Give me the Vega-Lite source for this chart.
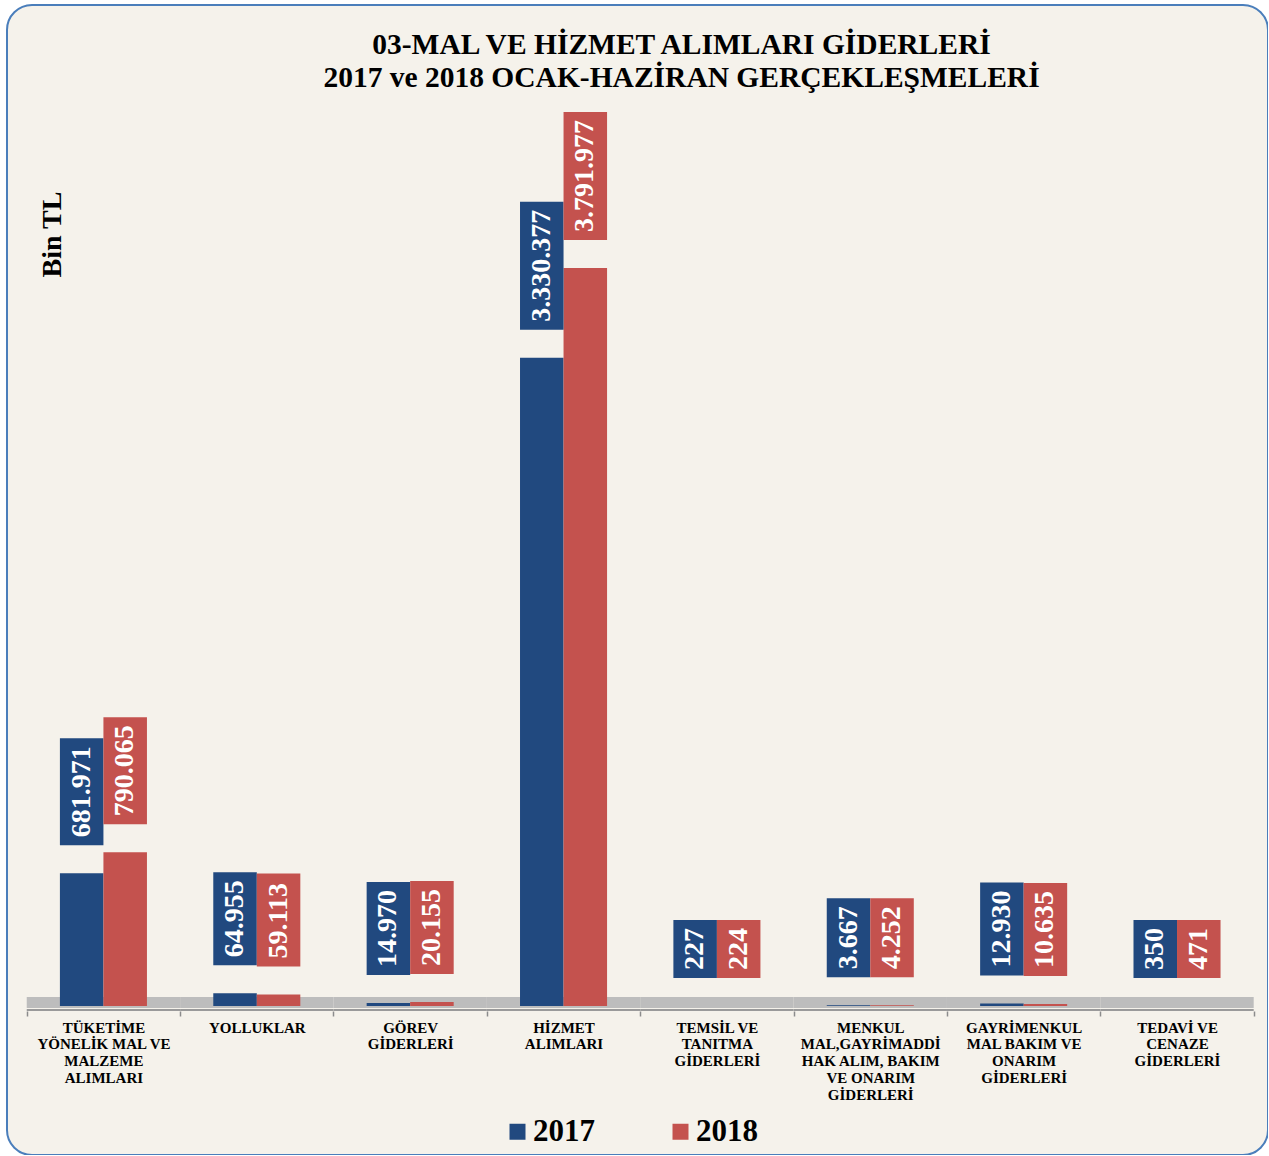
{
  "$schema": "https://vega.github.io/schema/vega-lite/v6.json",
  "width": 1261,
  "height": 1150,
  "autosize": {"type": "none"},
  "padding": {"left": 7, "top": 5, "right": 0, "bottom": 0},
  "background": "white",
  "config": {
    "view": {"fill": "#F5F2EB", "stroke": "#4A7EBB", "strokeWidth": 2, "cornerRadius": 25},
    "font": "Liberation Serif",
    "locale": {"number": {"decimal": ",", "thousands": ".", "grouping": [3], "currency": ["", ""]}}
  },
  "title": {
    "text": ["03-MAL VE HİZMET ALIMLARI GİDERLERİ", "2017 ve 2018 OCAK-HAZİRAN GERÇEKLEŞMELERİ"],
    "font": "Liberation Serif",
    "fontSize": 29.5,
    "fontWeight": "bold",
    "color": "black",
    "anchor": "middle",
    "frame": "group",
    "offset": -88,
    "lineHeight": 33,
    "dx": 44
  },
  "data": {
    "values": [
      {"cat": "TÜKETİME YÖNELİK MAL VE MALZEME ALIMLARI", "year": "2017", "value": 681971},
      {"cat": "TÜKETİME YÖNELİK MAL VE MALZEME ALIMLARI", "year": "2018", "value": 790065},
      {"cat": "YOLLUKLAR", "year": "2017", "value": 64955},
      {"cat": "YOLLUKLAR", "year": "2018", "value": 59113},
      {"cat": "GÖREV GİDERLERİ", "year": "2017", "value": 14970},
      {"cat": "GÖREV GİDERLERİ", "year": "2018", "value": 20155},
      {"cat": "HİZMET ALIMLARI", "year": "2017", "value": 3330377},
      {"cat": "HİZMET ALIMLARI", "year": "2018", "value": 3791977},
      {"cat": "TEMSİL VE TANITMA GİDERLERİ", "year": "2017", "value": 227},
      {"cat": "TEMSİL VE TANITMA GİDERLERİ", "year": "2018", "value": 224},
      {"cat": "MENKUL MAL,GAYRİMADDİ HAK ALIM, BAKIM VE ONARIM GİDERLERİ", "year": "2017", "value": 3667},
      {"cat": "MENKUL MAL,GAYRİMADDİ HAK ALIM, BAKIM VE ONARIM GİDERLERİ", "year": "2018", "value": 4252},
      {"cat": "GAYRİMENKUL MAL BAKIM VE ONARIM GİDERLERİ", "year": "2017", "value": 12930},
      {"cat": "GAYRİMENKUL MAL BAKIM VE ONARIM GİDERLERİ", "year": "2018", "value": 10635},
      {"cat": "TEDAVİ VE CENAZE GİDERLERİ", "year": "2017", "value": 350},
      {"cat": "TEDAVİ VE CENAZE GİDERLERİ", "year": "2018", "value": 471}
    ]
  },
  "encoding": {
    "x": {
      "field": "cat",
      "type": "nominal",
      "sort": null,
      "scale": {"paddingInner": 0, "paddingOuter": 0.111, "align": 0.58},
      "axis": {
        "title": null,
        "domain": false,
        "ticks": true,
        "tickBand": "extent",
        "tickColor": "#8C8C8C",
        "tickSize": 5,
        "tickWidth": 1.5,
        "offset": -144,
        "labelAngle": 0,
        "labelFont": "Liberation Serif",
        "labelFontWeight": "bold",
        "labelFontSize": 15,
        "labelColor": "black",
        "labelLineHeight": 16.8,
        "labelPadding": 4,
        "labelBaseline": "top",
        "labelLimit": 0,
        "labelExpr": "{'TÜKETİME YÖNELİK MAL VE MALZEME ALIMLARI': ['TÜKETİME', 'YÖNELİK MAL VE', 'MALZEME', 'ALIMLARI'], 'YOLLUKLAR': ['YOLLUKLAR'], 'GÖREV GİDERLERİ': ['GÖREV', 'GİDERLERİ'], 'HİZMET ALIMLARI': ['HİZMET', 'ALIMLARI'], 'TEMSİL VE TANITMA GİDERLERİ': ['TEMSİL VE', 'TANITMA', 'GİDERLERİ'], 'MENKUL MAL,GAYRİMADDİ HAK ALIM, BAKIM VE ONARIM GİDERLERİ': ['MENKUL', 'MAL,GAYRİMADDİ', 'HAK ALIM, BAKIM', 'VE ONARIM', 'GİDERLERİ'], 'GAYRİMENKUL MAL BAKIM VE ONARIM GİDERLERİ': ['GAYRİMENKUL', 'MAL BAKIM VE', 'ONARIM', 'GİDERLERİ'], 'TEDAVİ VE CENAZE GİDERLERİ': ['TEDAVİ VE', 'CENAZE', 'GİDERLERİ']}[datum.value]"
      }
    }
  },
  "layer": [
    {
      "transform": [{"filter": "datum.year == '2017'"}],
      "mark": {"type": "bar", "yOffset": -9, "y2Offset": 2, "color": "#BDBDBD"},
      "encoding": {
        "y": {
          "datum": 0,
          "type": "quantitative",
          "scale": {"domain": [-765600, 5143200], "nice": false, "zero": true},
          "axis": {
            "title": "Bin TL",
            "labels": false,
            "ticks": false,
            "domain": false,
            "grid": false,
            "titleFont": "Liberation Serif",
            "titleFontSize": 28,
            "titleFontWeight": "bold",
            "titleColor": "black",
            "titleAngle": 270,
            "titleAlign": "center",
            "titleBaseline": "middle",
            "titleX": 45,
            "titleY": 229
          }
        },
        "y2": {"datum": 0}
      }
    },
    {
      "transform": [{"filter": "datum.year == '2017'"}],
      "mark": {"type": "bar", "yOffset": 3, "y2Offset": 5, "color": "#9A9A9A"},
      "encoding": {
        "y": {"datum": 0, "type": "quantitative"},
        "y2": {"datum": 0}
      }
    },
    {
      "mark": {"type": "bar"},
      "encoding": {
        "xOffset": {"field": "year", "type": "nominal", "scale": {"paddingInner": 0, "paddingOuter": 0.762}},
        "y": {"field": "value", "type": "quantitative"},
        "color": {
          "field": "year",
          "type": "nominal",
          "scale": {"domain": ["2017", "2018"], "range": ["#21497F", "#C4524E"]},
          "legend": {
            "orient": "none",
            "legendX": 495,
            "legendY": 1111,
            "direction": "horizontal",
            "title": null,
            "symbolType": "square",
            "symbolSize": 256,
            "symbolStrokeWidth": 0,
            "labelFont": "Liberation Serif",
            "labelFontSize": 31,
            "labelFontWeight": "bold",
            "labelColor": "black",
            "labelOffset": 0,
            "columnPadding": 70,
            "padding": 0
          }
        }
      }
    },
    {
      "mark": {
        "type": "bar",
        "yOffset": {"expr": "-28 - (14 * (floor(log(datum.value) / LN10) + 1) + 7 * floor(floor(log(datum.value) / LN10) / 3) + 16)"},
        "y2Offset": -28
      },
      "encoding": {
        "xOffset": {"field": "year", "type": "nominal"},
        "y": {"field": "value", "type": "quantitative"},
        "y2": {"field": "value"},
        "color": {"field": "year", "type": "nominal", "legend": null}
      }
    },
    {
      "mark": {
        "type": "text",
        "angle": 270,
        "align": "left",
        "baseline": "middle",
        "yOffset": -36,
        "font": "Liberation Serif",
        "fontSize": 28,
        "fontWeight": "bold",
        "color": "white"
      },
      "encoding": {
        "xOffset": {"field": "year", "type": "nominal"},
        "y": {"field": "value", "type": "quantitative"},
        "text": {"field": "value", "type": "quantitative", "format": ",.0f"}
      }
    }
  ]
}
